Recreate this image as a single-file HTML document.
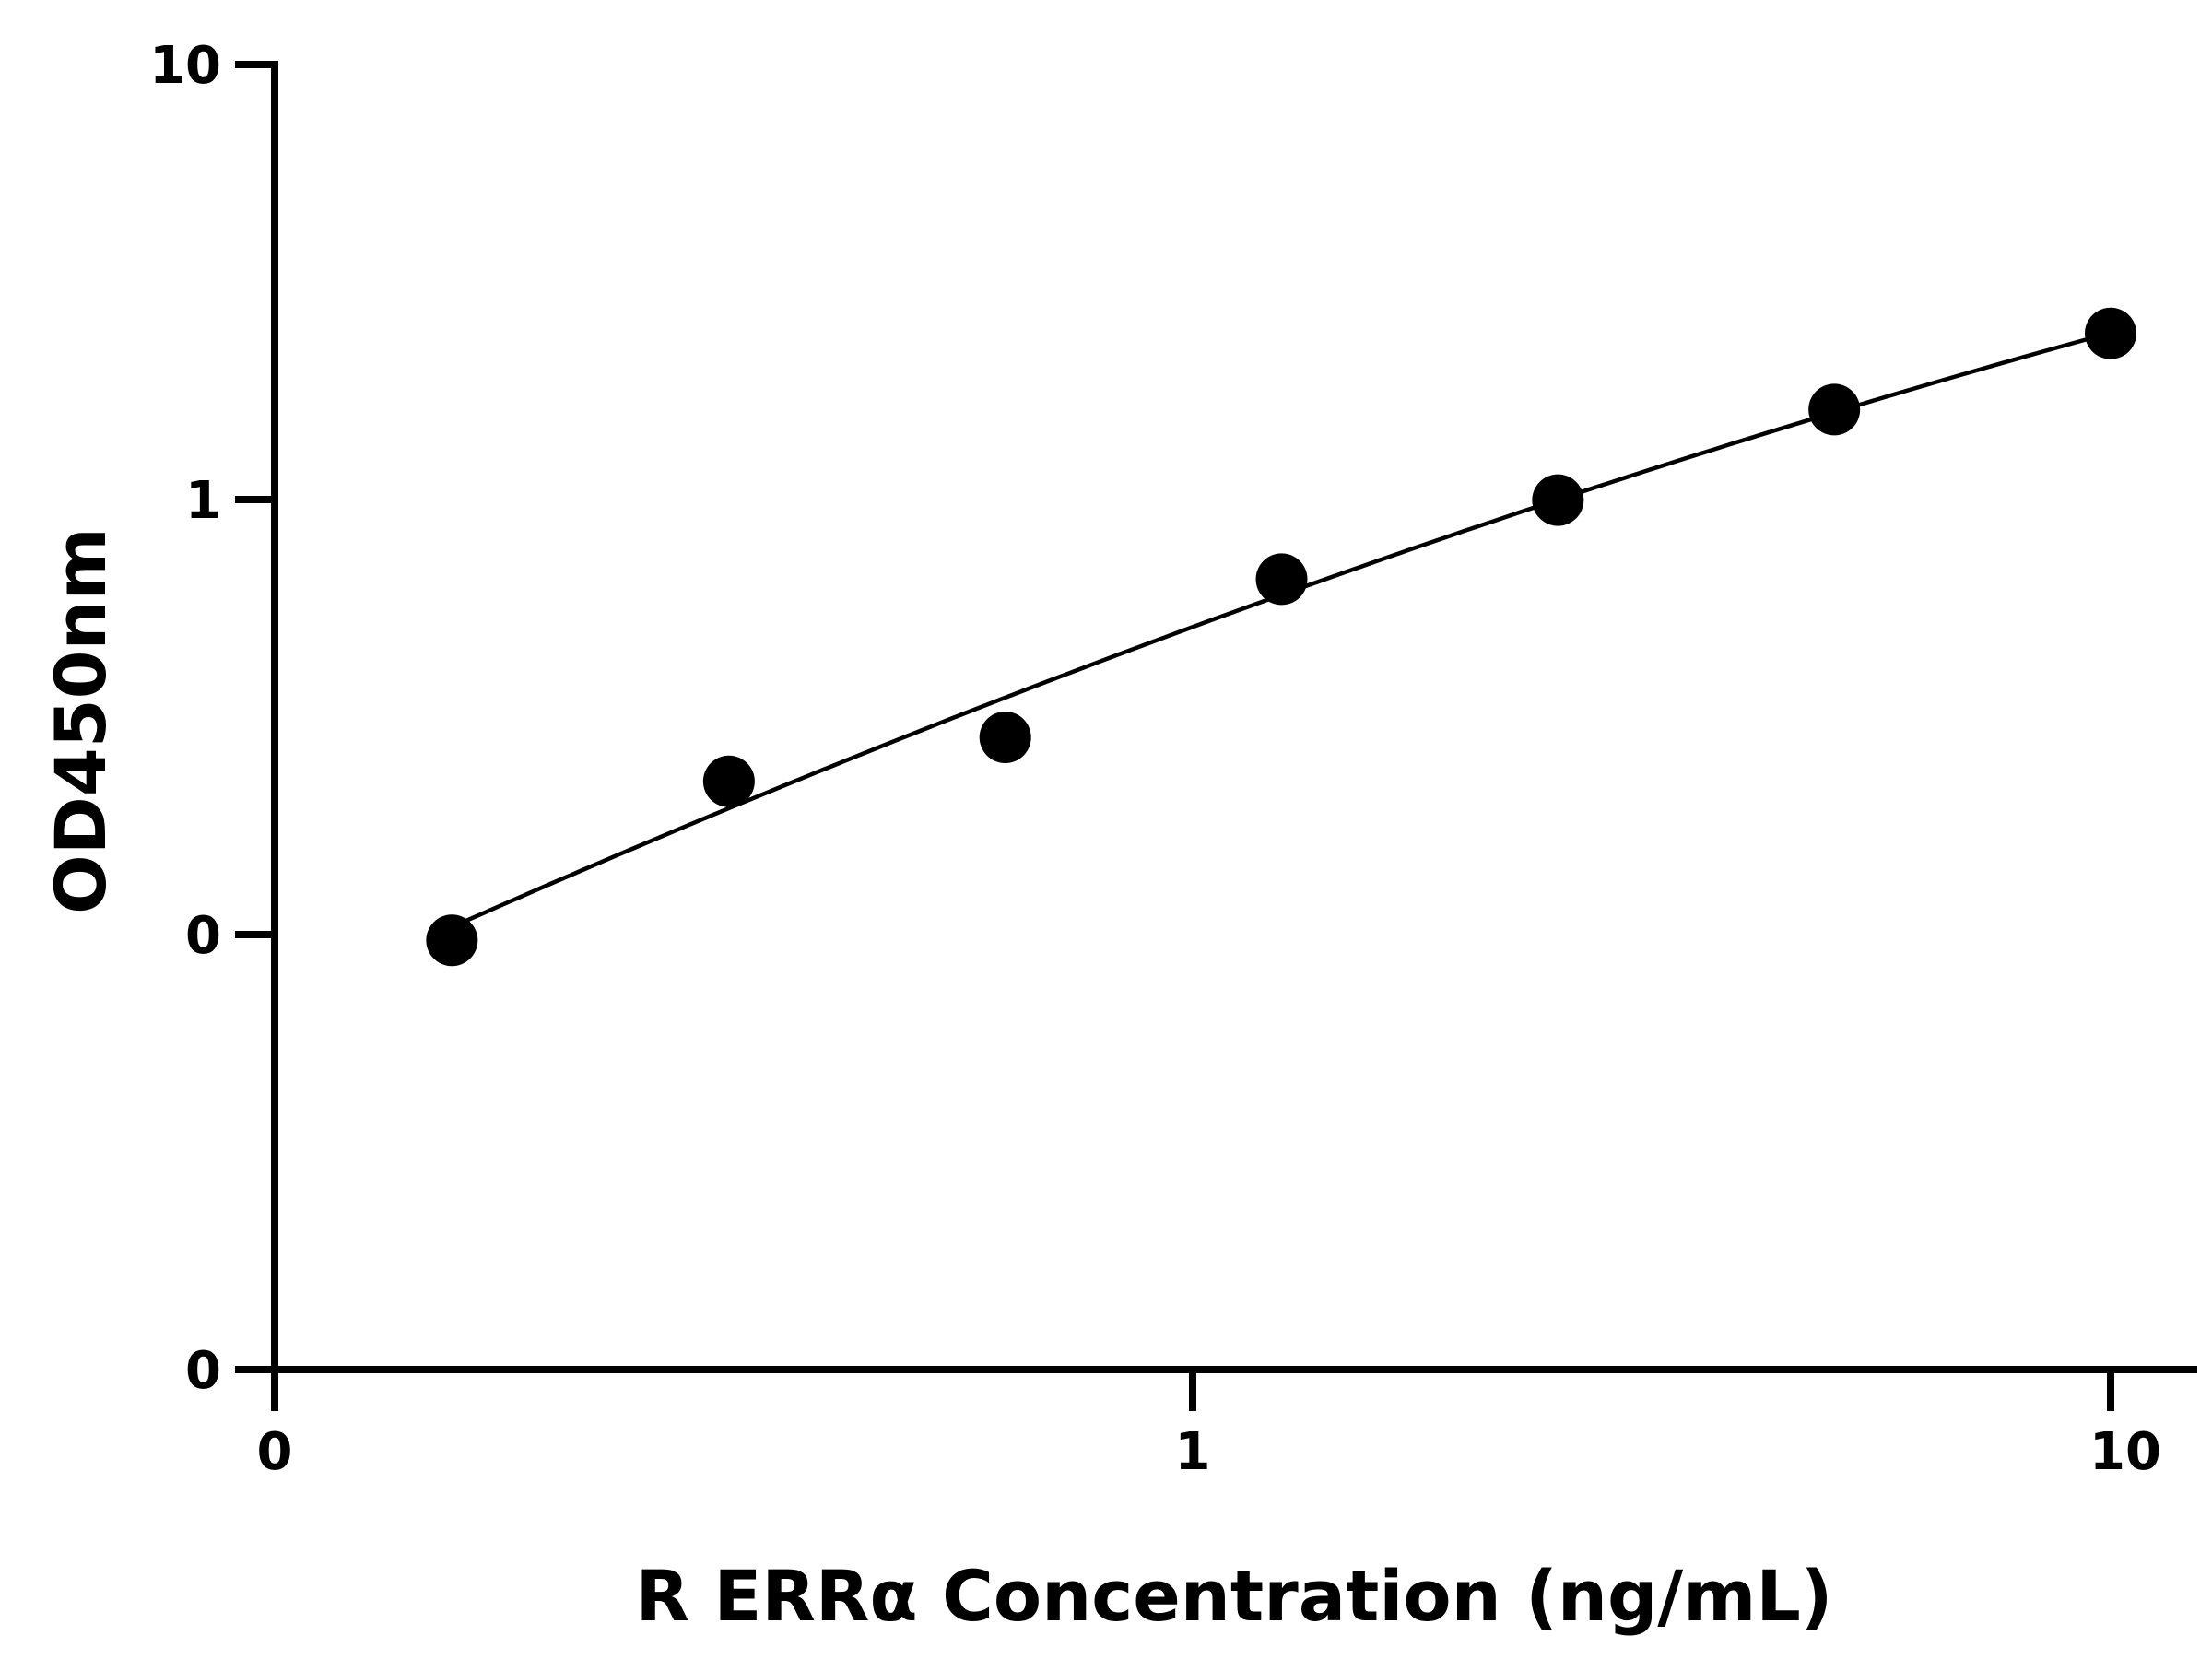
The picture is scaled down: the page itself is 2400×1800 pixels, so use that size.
<!DOCTYPE html>
<html><head><meta charset="utf-8"><style>
html,body{margin:0;padding:0;background:#fff}
svg{display:block}
text{font-family:"DejaVu Sans","Liberation Sans",sans-serif;font-weight:bold;fill:#000}
</style></head><body>
<svg id="chart" width="2400" height="1800" viewBox="0 0 2400 1800" xmlns="http://www.w3.org/2000/svg">
<g id="axes"></g>
<g id="curve"></g>
<g id="points"></g>
<text x="1339" y="1758" font-size="76" text-anchor="middle">R ERRα Concentration (ng/mL)</text>
<text transform="translate(114,782) rotate(-90)" font-size="76" text-anchor="middle">OD450nm</text>
</svg>
<script>
const concentrations = [0.156, 0.3125, 0.625, 1.25, 2.5, 5, 10];
const odValues = [0.097, 0.225, 0.284, 0.656, 0.997, 1.61, 2.41];
const xTickValues = [0.1, 1, 10];
const xTickLabels = ["0", "1", "10"];
const yTickValues = [0.01, 0.1, 1, 10];
const yTickLabels = ["0", "0", "1", "10"];
const fitCoefficients = [-0.293, 0.775, -0.0987]; // log10(OD) = a + b*log10(c) + c2*log10(c)^2

const NS = "http://www.w3.org/2000/svg";
const X0 = 298, XDEC = 996, Y0 = 1486, YDEC = 472;
function xScale(c){ return X0 + XDEC * (Math.log10(c) - Math.log10(0.1)); }
function yScale(v){ return Y0 - YDEC * (Math.log10(v) - Math.log10(0.01)); }
function mk(tag, attrs, parent){ const e = document.createElementNS(NS, tag); for (const k in attrs) e.setAttribute(k, attrs[k]); parent.appendChild(e); return e; }

const axes = document.getElementById('axes');
let yl = mk('line', {x1:X0, y1:66, x2:X0, y2:1490, stroke:'#000', 'stroke-width':8}, axes);


let xl = mk('line', {x1:255, y1:Y0, x2:2384, y2:Y0, stroke:'#000', 'stroke-width':8}, axes);



yTickValues.forEach((v, i) => {
  const y = yScale(v);
  const t = mk('line', {x1:255, y1:y, x2:X0, y2:y, stroke:'#000', 'stroke-width':8}, axes);
  
  
  const lb = mk('text', {x:240, y:y + 20, 'font-size':56, 'text-anchor':'end'}, axes);
  lb.textContent = yTickLabels[i];
  
  
});
xTickValues.forEach((v, i) => {
  const x = xScale(v);
  const t = mk('line', {x1:x, y1:Y0, x2:x, y2:1531, stroke:'#000', 'stroke-width':8}, axes);
  
  
  const lb = mk('text', {x:x + (i === 2 ? 16 : 0), y:1594, 'font-size':56, 'text-anchor':'middle'}, axes);
  lb.textContent = xTickLabels[i];
  
  
});

const curveG = document.getElementById('curve');
const uMin = Math.log10(concentrations[0]), uMax = Math.log10(concentrations[concentrations.length - 1]);
let d = '';
for (let k = 0; k <= 100; k++) {
  const u = uMin + (uMax - uMin) * k / 100;
  const lv = fitCoefficients[0] + fitCoefficients[1] * u + fitCoefficients[2] * u * u;
  const px = xScale(Math.pow(10, u)), py = yScale(Math.pow(10, lv));
  d += (k ? 'L' : 'M') + px.toFixed(1) + ',' + py.toFixed(1);
}
const path = mk('path', {d:d, fill:'none', stroke:'#000', 'stroke-width':4.5}, curveG);



const ptsG = document.getElementById('points');
concentrations.forEach((c, i) => {
  const p = mk('circle', {cx:xScale(c), cy:yScale(odValues[i]), r:28, fill:'#000'}, ptsG);
  
  
});
</script>
</body></html>
